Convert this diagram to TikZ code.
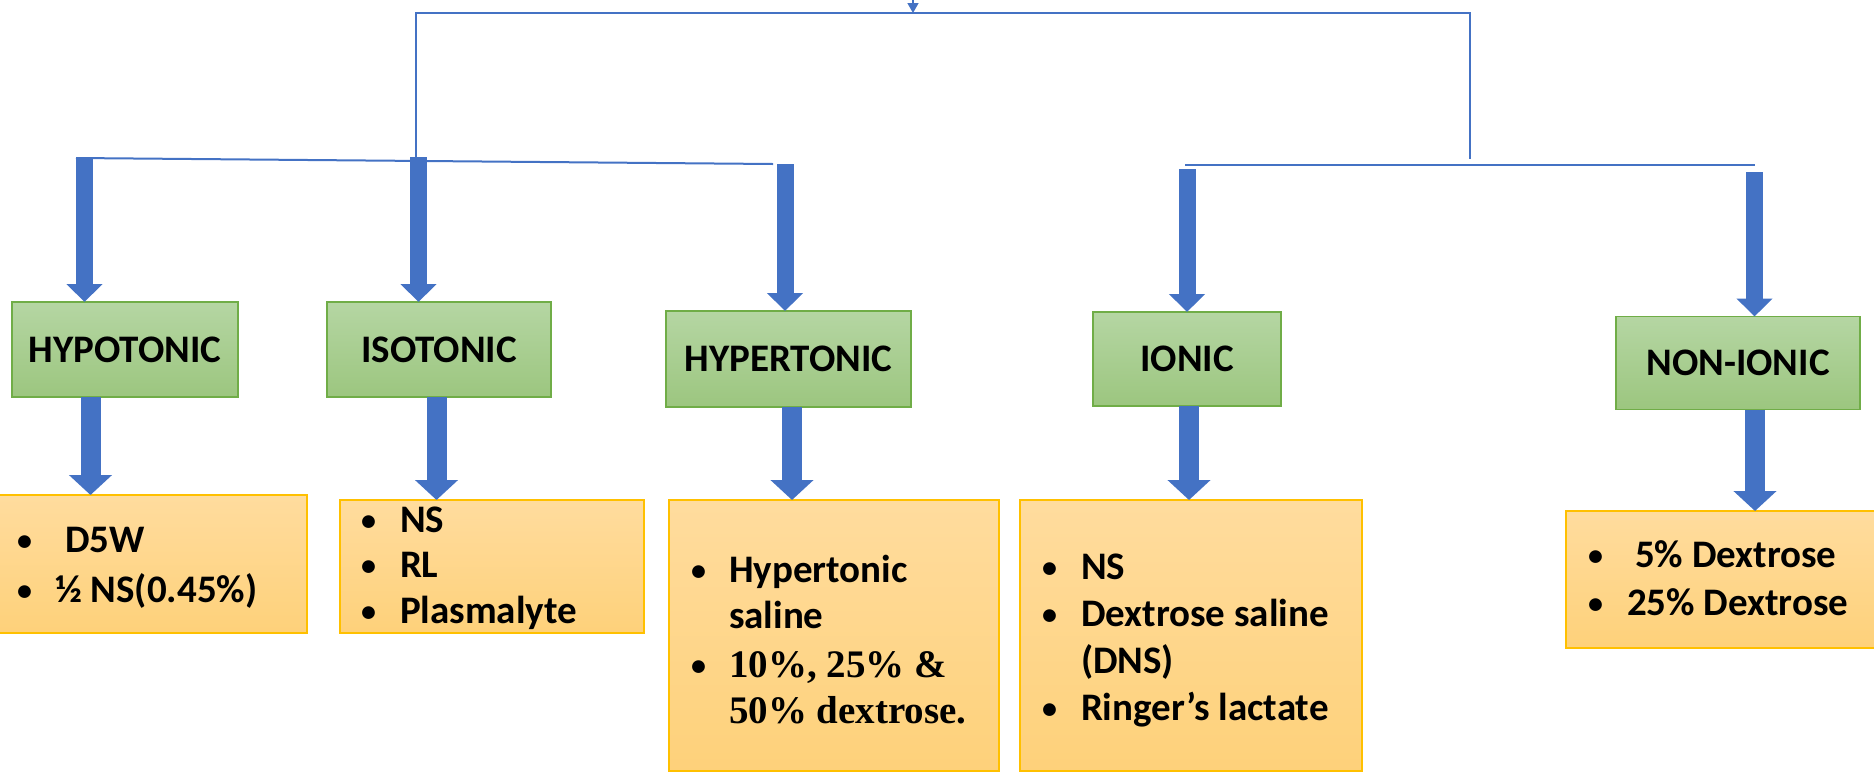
\documentclass[tikz,border=0pt]{standalone}
\usepackage{fontspec}
\setmainfont{Carlito}
\newfontfamily\timesb{Liberation Serif}
\usetikzlibrary{arrows.meta}
\definecolor{lblue}{HTML}{4472C4}
\definecolor{gtop}{HTML}{B5D6A3}
\definecolor{gbot}{HTML}{9CC67F}
\definecolor{gbord}{HTML}{70AD47}
\definecolor{otop}{HTML}{FFDC9E}
\definecolor{obot}{HTML}{FED17A}
\definecolor{obord}{HTML}{FFC000}
\newcommand\smbul{\raisebox{2pt}{\fontsize{30}{30}\selectfont •}}
\newcommand\bitem[2]{\hbox{\makebox[#1][l]{\smbul}#2}}
\newcommand\bcont[2]{\hbox{\hspace*{#1}#2}}
\newcommand\blist[2]{\vtop{\baselineskip=#1\lineskiplimit=-100pt\lineskip=0pt #2}}
\begin{document}
\begin{tikzpicture}[x=1pt,y=-1pt,
  every node/.style={inner sep=0pt, outer sep=0pt},
  catbox/.style={draw=gbord, line width=1.5pt, top color=gtop, bottom color=gbot,
    font=\fontsize{39}{47}\selectfont\bfseries},
  listbox/.style={draw=obord, line width=1.5pt, top color=otop, bottom color=obot},
  listtext/.style={anchor=base west, font=\fontsize{39}{48}\selectfont\bfseries},
  bus/.style={draw=lblue, line width=2pt},
  fatT/.style={draw=lblue, line width=17pt, -{Triangle[width=35pt,length=18pt]}},
  fatB/.style={draw=lblue, line width=20pt, -{Triangle[width=42pt,length=20pt]}}]
\useasboundingbox (0,0) rectangle (1874,772);

% category boxes
\node[catbox, minimum width=226pt, minimum height=95pt] (hypo)  at (125,349.5) {HYPOTONIC};
\node[catbox, minimum width=224pt, minimum height=95pt] (iso)   at (439,349.5) {ISOTONIC};
\node[catbox, minimum width=245pt, minimum height=96pt] (hyper) at (788.5,359) {HYPERTONIC};
\node[catbox, minimum width=188pt, minimum height=94pt] (ionic) at (1187,359) {IONIC};
\node[catbox, minimum width=244pt, minimum height=93pt] (nonionic) at (1738,363) {NON-IONIC};

% list boxes
\node[listbox, minimum width=309pt, minimum height=138pt] (hypoL)  at (152.5,564) {};
\node[listbox, minimum width=304pt, minimum height=133pt] (isoL)   at (492,566.5) {};
\node[listbox, minimum width=330pt, minimum height=271pt] (hyperL) at (834,635.5) {};
\node[listbox, minimum width=342pt, minimum height=271pt] (ionicL) at (1191,635.5) {};
\node[listbox, minimum width=312pt, minimum height=137pt] (nonionicL) at (1722,579.5) {};

% list texts
\node[listtext] (hypoT) at (17,552) {\blist{50pt}{\bitem{48pt}{D5W}\bitem{38pt}{½ NS(0.45\%)}}};
\node[listtext] (isoT) at (361,532) {\blist{45.5pt}{\bitem{39pt}{NS}\bitem{39pt}{RL}\bitem{39pt}{Plasmalyte}}};
\node[listtext] (hyperT) at (691,582) {\blist{46pt}{\bitem{38pt}{Hypertonic}\bcont{38pt}{saline}\vskip3pt
  \bitem{38pt}{\timesb 10\%, 25\% \&}\bcont{38pt}{\timesb 50\% dextrose.}}};
\node[listtext] (ionicT) at (1042,579) {\blist{47pt}{\bitem{39pt}{NS}\bitem{39pt}{Dextrose saline}\bcont{39pt}{(DNS)}\bitem{39pt}{Ringer’s lactate}}};
\node[listtext] (nonionicT) at (1588,567) {\blist{48pt}{\bitem{47pt}{5\% Dextrose}\bitem{39pt}{25\% Dextrose}}};

% bus lines
\coordinate (in) at (913,-2);
\coordinate (t1) at (913,13);
\coordinate (tL) at (416,13);
\coordinate (tR) at (1470,13);
\coordinate (vL) at (416,157);
\coordinate (vR) at (1470,159);
\coordinate (lA) at (76,158);
\coordinate (lB) at (773,164);
\coordinate (rA) at (1185,165);
\coordinate (rB) at (1755,165);
\draw[lblue, line width=1.5pt, -{Triangle[width=11pt,length=10pt]}] (in) -- (t1);
\draw[bus] (vL) -- (tL) -- (tR) -- (vR);
\draw[bus] (lA) -- (lB);
\draw[bus] (rA) -- (rB);

% upper fat arrows
\coordinate (s1) at (84.5,158);
\coordinate (s2) at (418.5,157);
\coordinate (s3) at (785,164);
\coordinate (s4) at (1187,169);
\coordinate (s5) at (1754.5,172);
\draw[fatT] (s1) -- (s1 |- hypo.north);
\draw[fatT] (s2) -- (s2 |- iso.north);
\draw[fatT] (s3) -- (s3 |- hyper.north);
\draw[fatT] (s4) -- (s4 |- ionic.north);
\draw[fatT] (s5) -- (s5 |- nonionic.north);

% lower fat arrows
\coordinate (x1) at (90.5,0);
\coordinate (x2) at (436.5,0);
\coordinate (x3) at (792,0);
\coordinate (x4) at (1189,0);
\coordinate (x5) at (1755,0);
\draw[fatB] (hypo.south -| x1) -- (hypoL.north -| x1);
\draw[fatB] (iso.south -| x2) -- (isoL.north -| x2);
\draw[fatB] (hyper.south -| x3) -- (hyperL.north -| x3);
\draw[fatB] (ionic.south -| x4) -- (ionicL.north -| x4);
\draw[fatB] (nonionic.south -| x5) -- (nonionicL.north -| x5);
\end{tikzpicture}
\end{document}
